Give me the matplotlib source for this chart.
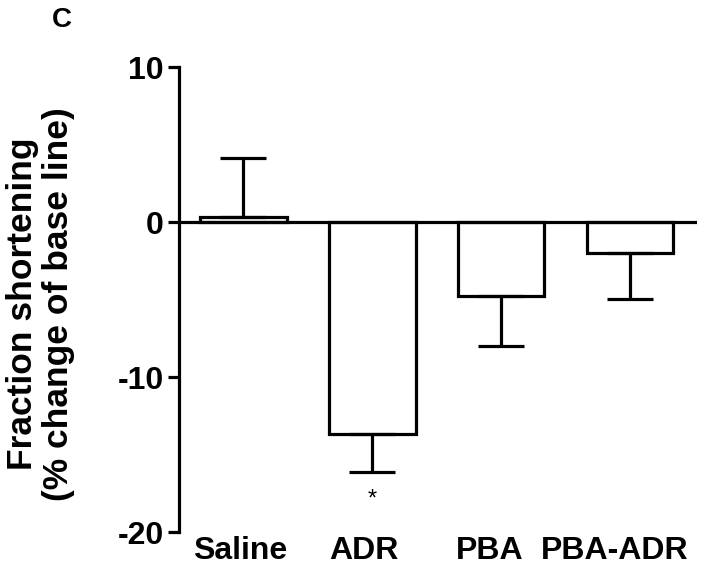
import numpy as np
import matplotlib
matplotlib.use("Agg")
import matplotlib.pyplot as plt
from matplotlib.transforms import ScaledTranslation

plt.rcParams['font.family'] = ['Liberation Sans', 'DejaVu Sans']
plt.rcParams['font.weight'] = 'bold'
plt.rcParams['axes.unicode_minus'] = False

# --- data -----------------------------------------------------------------
groups = ["Saline", "ADR", "PBA", "PBA-ADR"]
mean   = [0.35, -13.65, -4.8, -1.97]
sem    = [3.75, 2.45, 3.23, 2.97]
stars  = ["", "*", "", ""]

x = np.arange(len(groups))
LW = 2.3

fig = plt.figure(figsize=(7.22, 5.65), dpi=100)
ax = fig.add_axes([0.248, 0.0584, 0.7175, 0.823])

ax.bar(x, mean, width=0.67, color="white", edgecolor="black", linewidth=LW, zorder=2)
# one-sided error bars, pointing away from zero
lo = [0 if m >= 0 else s for m, s in zip(mean, sem)]
hi = [s if m >= 0 else 0 for m, s in zip(mean, sem)]
ax.errorbar(x, mean, yerr=[lo, hi], fmt="none", ecolor="black",
            elinewidth=LW, capsize=16.5, capthick=LW, zorder=3)
ax.axhline(0, color="black", lw=LW, zorder=4)

for xi, m, s, st in zip(x, mean, sem, stars):
    if st:
        ax.text(xi, m - s - 1.1, st, ha="center", va="top", fontsize=17,
                fontweight="normal")

ax.set_xlim(-0.5, 3.52)
ax.set_ylim(-20, 10)
ax.set_yticks([-20, -10, 0, 10])
ax.set_xticks(x)
ax.set_xticklabels(groups, fontsize=23, fontweight="bold")
ax.tick_params(axis="x", length=0, pad=3)
ax.tick_params(axis="y", length=8, width=LW, labelsize=23, pad=3)
# labels in the original sit a little left of the bar centres
for lab, dx in zip(ax.get_xticklabels(), [-3, -8, -12, -15]):
    lab.set_transform(lab.get_transform() + ScaledTranslation(dx/100, 0, fig.dpi_scale_trans))

for sp in ["top", "right", "bottom"]:
    ax.spines[sp].set_visible(False)
ax.spines["left"].set_linewidth(LW)

ax.set_ylabel("Fraction shortening\n(% change of base line)", fontsize=25.5,
              fontweight="bold", va="center", linespacing=1.1)
ax.yaxis.set_label_coords(-0.268, 0.49)

fig.text(62/722, 1 - 20/565, "C", fontsize=20, fontweight="bold",
         ha="center", va="center")

fig.savefig("out.png", dpi=100)
